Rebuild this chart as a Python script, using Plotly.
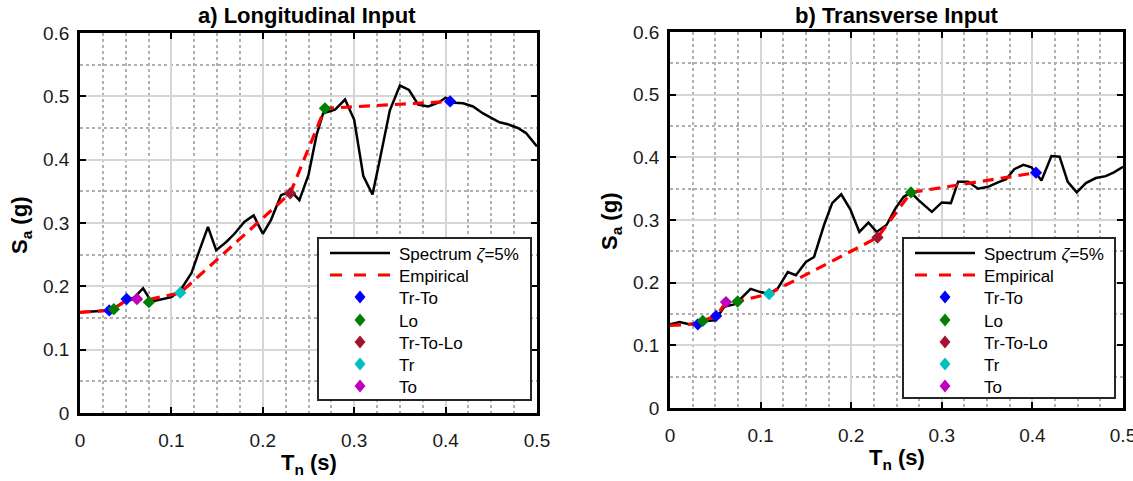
import plotly.graph_objects as go

W, H = 1133, 481

# ---------------- data ----------------
# a) Longitudinal input
specA_T = [0.0, 0.01, 0.02, 0.031, 0.04, 0.05, 0.06, 0.069, 0.078, 0.09, 0.1, 0.11, 0.122, 0.129,
           0.14, 0.149, 0.16, 0.169, 0.18, 0.19, 0.2, 0.209, 0.22, 0.231, 0.24, 0.25, 0.259, 0.266,
           0.279, 0.29, 0.3, 0.31, 0.32, 0.328, 0.339, 0.35, 0.36, 0.37, 0.381, 0.392, 0.4, 0.41,
           0.419, 0.43, 0.441, 0.45, 0.459, 0.468, 0.479, 0.488, 0.5]
specA_Sa = [0.159, 0.160, 0.161, 0.162, 0.168, 0.177, 0.183, 0.197, 0.176, 0.180, 0.183, 0.194, 0.221, 0.25,
            0.294, 0.257, 0.27, 0.283, 0.302, 0.312, 0.283, 0.305, 0.344, 0.35, 0.336, 0.376, 0.440, 0.473,
            0.479, 0.495, 0.463, 0.374, 0.345, 0.40, 0.478, 0.517, 0.510, 0.487, 0.484, 0.49, 0.498, 0.490,
            0.489, 0.484, 0.473, 0.466, 0.459, 0.456, 0.45, 0.442, 0.421]
empA_T = [0.0, 0.032, 0.037, 0.051, 0.062, 0.075, 0.11, 0.23, 0.268, 0.405]
empA_Sa = [0.159, 0.162, 0.165, 0.178, 0.180, 0.179, 0.190, 0.347, 0.481, 0.492]

# b) Transverse input
specB_T = [0.0, 0.0106, 0.02, 0.031, 0.04, 0.05, 0.06, 0.07, 0.075, 0.089, 0.1, 0.109, 0.119, 0.13,
           0.139, 0.15, 0.159, 0.17, 0.179, 0.189, 0.199, 0.209, 0.219, 0.228, 0.239, 0.249, 0.258,
           0.266, 0.274, 0.289, 0.3, 0.31, 0.318, 0.329, 0.34, 0.351, 0.362, 0.371, 0.38, 0.39, 0.399,
           0.41, 0.421, 0.43, 0.439, 0.449, 0.459, 0.47, 0.481, 0.49, 0.5]
specB_Sa = [0.1335, 0.137, 0.134, 0.135, 0.139, 0.140, 0.162, 0.165, 0.170, 0.190, 0.185, 0.182, 0.191, 0.217,
            0.212, 0.233, 0.241, 0.292, 0.327, 0.341, 0.317, 0.281, 0.296, 0.281, 0.292, 0.319, 0.337,
            0.344, 0.332, 0.313, 0.328, 0.327, 0.361, 0.361, 0.35, 0.353, 0.36, 0.365, 0.381, 0.388, 0.384,
            0.363, 0.402, 0.401, 0.361, 0.344, 0.359, 0.367, 0.37, 0.376, 0.385]
empB_T = [0.0, 0.031, 0.036, 0.051, 0.062, 0.0746, 0.109, 0.229, 0.266, 0.404]
empB_Sa = [0.132, 0.134, 0.139, 0.147, 0.169, 0.170, 0.182, 0.272, 0.344, 0.3755]

# marker groups
groups = ["Tr-To", "Lo", "Tr-To-Lo", "Tr", "To"]
group_colors = ["#0000ff", "#008000", "#a2142f", "#00bfbf", "#bf00bf"]
ptsA_T = {"Tr-To": [0.032, 0.051, 0.405], "Lo": [0.037, 0.0754, 0.268], "Tr-To-Lo": [0.23],
          "Tr": [0.1097], "To": [0.0623]}
ptsA_Sa = {"Tr-To": [0.162, 0.180, 0.492], "Lo": [0.164, 0.175, 0.481], "Tr-To-Lo": [0.347],
           "Tr": [0.190], "To": [0.180]}
ptsB_T = {"Tr-To": [0.0307, 0.0509, 0.404], "Lo": [0.0362, 0.0746, 0.266], "Tr-To-Lo": [0.229],
          "Tr": [0.1094], "To": [0.0618]}
ptsB_Sa = {"Tr-To": [0.1335, 0.147, 0.3755], "Lo": [0.139, 0.170, 0.344], "Tr-To-Lo": [0.272],
           "Tr": [0.182], "To": [0.169]}

x_ticks = [0, 0.1, 0.2, 0.3, 0.4, 0.5]
y_ticks = [0, 0.1, 0.2, 0.3, 0.4, 0.5, 0.6]
titles = ["a) Longitudinal Input", "b) Transverse Input"]
spec_name = "Spectrum <i>ζ</i>=5%"
emp_name = "Empirical"

FONT = "Liberation Sans, Arial, Helvetica, sans-serif"


def px_x(p):
    return p / W


def px_y(p):
    return 1 - p / H


fig = go.Figure()

panels = [
    (specA_T, specA_Sa, empA_T, empA_Sa, ptsA_T, ptsA_Sa, "x", "y"),
    (specB_T, specB_Sa, empB_T, empB_Sa, ptsB_T, ptsB_Sa, "x2", "y2"),
]
for sT, sS, eT, eS, pT, pS, xa, ya in panels:
    fig.add_trace(go.Scatter(x=sT, y=sS, mode="lines", name=spec_name, showlegend=False,
                             line=dict(color="black", width=2.5), xaxis=xa, yaxis=ya))
    fig.add_trace(go.Scatter(x=eT, y=eS, mode="lines", name=emp_name, showlegend=False,
                             line=dict(color="#ff0000", width=3.2, dash="11px,7px"),
                             xaxis=xa, yaxis=ya))
    for g, c in zip(groups, group_colors):
        fig.add_trace(go.Scatter(x=pT[g], y=pS[g], mode="markers", name=g, showlegend=False,
                                 marker=dict(symbol="diamond", size=9.5, color=c,
                                             line=dict(width=0)),
                                 xaxis=xa, yaxis=ya))


def xaxis(dom, anchor):
    return dict(domain=dom, range=[0, 0.5], tickvals=x_ticks, ticktext=[f"{v:g}" for v in x_ticks],
                anchor=anchor, automargin=False, ticklabeloverflow="allow",
                showline=True, linewidth=2.5, linecolor="black", mirror="ticks",
                ticks="inside", ticklen=6, tickwidth=2, tickcolor="black",
                showgrid=True, gridcolor="#d6d6d6", gridwidth=1.5, zeroline=False,
                tickfont=dict(family=FONT, size=19, color="#1a1a1a"), ticklabelstandoff=8,
                minor=dict(dtick=0.025, tick0=0, showgrid=True, gridcolor="#b0b0b0",
                           griddash="dot", gridwidth=1.5, ticks=""),
                fixedrange=True)


def yaxis(dom, anchor):
    return dict(domain=dom, range=[0, 0.6], tickvals=y_ticks, ticktext=[f"{v:g}" for v in y_ticks],
                anchor=anchor, automargin=False, ticklabeloverflow="allow",
                showline=True, linewidth=2.5, linecolor="black", mirror="ticks",
                ticks="inside", ticklen=6, tickwidth=2, tickcolor="black",
                showgrid=True, gridcolor="#d6d6d6", gridwidth=1.5, zeroline=False,
                tickfont=dict(family=FONT, size=19, color="#1a1a1a"), ticklabelstandoff=4,
                minor=dict(dtick=0.05, tick0=0, showgrid=True, gridcolor="#b0b0b0",
                           griddash="dot", gridwidth=1.5, ticks=""),
                fixedrange=True)


annotations = []
shapes = []

# titles
for txt, cx in zip(titles, [307, 897]):
    annotations.append(dict(text=txt, x=px_x(cx), y=px_y(15), xref="paper", yref="paper",
                            xanchor="center", yanchor="middle", showarrow=False,
                            font=dict(family=FONT, size=22, color="black", weight="bold")))
# x labels
for cx, cy in [(309, 464), (897, 459)]:
    annotations.append(dict(text="T<sub>n</sub> (s)", x=px_x(cx), y=px_y(cy), xref="paper",
                            yref="paper", xanchor="center", yanchor="middle", showarrow=False,
                            font=dict(family=FONT, size=22, color="black", weight="bold")))
# y labels
for cx, cy in [(21, 225), (611, 222)]:
    annotations.append(dict(text="S<sub>a</sub> (g)", x=px_x(cx), y=px_y(cy), xref="paper",
                            yref="paper", xanchor="center", yanchor="middle", showarrow=False,
                            textangle=-90,
                            font=dict(family=FONT, size=22, color="black", weight="bold")))

# legends (box, line samples, diamond samples, labels) drawn in paper space
legend_boxes = [(318, 531, 238, 400), (903, 1115, 238, 398)]
row_y = [253, 275, 297, 320, 342, 364, 386]
for (bx0, bx1, by0, by1) in legend_boxes:
    shapes.append(dict(type="rect", xref="paper", yref="paper", layer="above",
                       x0=px_x(bx0), x1=px_x(bx1), y0=px_y(by1), y1=px_y(by0),
                       fillcolor="white", line=dict(color="#262626", width=2)))
    lx0, lx1 = bx0 + 12, bx0 + 72
    mx = (lx0 + lx1) / 2
    tx = bx0 + 79
    shapes.append(dict(type="line", xref="paper", yref="paper", layer="above",
                       x0=px_x(lx0), x1=px_x(lx1), y0=px_y(row_y[0]), y1=px_y(row_y[0]),
                       line=dict(color="black", width=2.5)))
    shapes.append(dict(type="line", xref="paper", yref="paper", layer="above",
                       x0=px_x(lx0), x1=px_x(lx1), y0=px_y(row_y[1]), y1=px_y(row_y[1]),
                       line=dict(color="#ff0000", width=3.2, dash="12px,12px")))
    labels = [spec_name, emp_name] + groups
    for i, lab in enumerate(labels):
        annotations.append(dict(text=lab, x=px_x(tx), y=px_y(row_y[i] + 1), xref="paper",
                                yref="paper", xanchor="left", yanchor="middle", showarrow=False,
                                font=dict(family=FONT, size=17, color="black")))
    for i, c in enumerate(group_colors):
        cy = row_y[i + 2]
        hw, hh = 5.5, 6.5
        path = (f"M{px_x(mx)},{px_y(cy - hh)} L{px_x(mx + hw)},{px_y(cy)} "
                f"L{px_x(mx)},{px_y(cy + hh)} L{px_x(mx - hw)},{px_y(cy)} Z")
        shapes.append(dict(type="path", xref="paper", yref="paper", layer="above", path=path,
                           fillcolor=c, line=dict(width=0)))

fig.update_layout(
    width=W, height=H, margin=dict(l=0, r=0, t=0, b=0, autoexpand=False),
    paper_bgcolor="white", plot_bgcolor="white",
    xaxis=xaxis([px_x(80), px_x(537)], "y"), yaxis=yaxis([px_y(413), px_y(33)], "x"),
    xaxis2=xaxis([px_x(670), px_x(1123)], "y2"), yaxis2=yaxis([px_y(408), px_y(32)], "x2"),
    annotations=annotations, shapes=shapes,
    showlegend=False,
)

fig.write_html("out.html", config={"displayModeBar": False},
               post_script="document.body.style.margin='0';document.body.style.overflow='hidden';")
